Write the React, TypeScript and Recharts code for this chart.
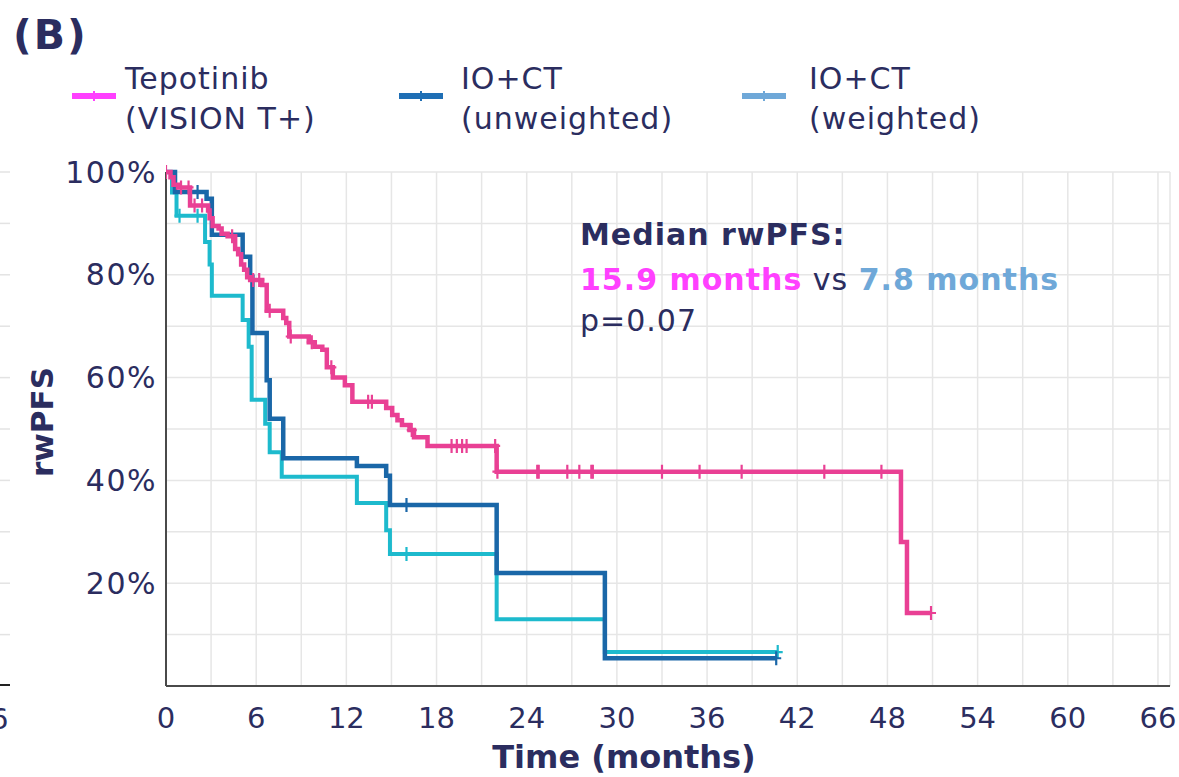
import React from 'react'
import { LineChart, Line, XAxis, YAxis, CartesianGrid } from 'recharts'

// Kaplan-Meier steps: [month, share progression-free]
const tepotinibSteps: [number, number][] = [
  [0, 1], [0.3, 0.99], [0.5, 0.975], [0.8, 0.97], [1.6, 0.935], [2.8, 0.925], [2.9, 0.91],
  [3.1, 0.895], [3.5, 0.89], [3.7, 0.88], [4.1, 0.875], [4.6, 0.85], [4.8, 0.84], [5.0, 0.82],
  [5.2, 0.81], [5.4, 0.795], [5.6, 0.79], [6.4, 0.78], [6.7, 0.73], [7.8, 0.716], [8.0, 0.706],
  [8.2, 0.68], [9.5, 0.669], [9.9, 0.66], [10.4, 0.654], [10.7, 0.62], [11.1, 0.6], [11.9, 0.585],
  [12.4, 0.553], [14.65, 0.541], [15.05, 0.527], [15.4, 0.517], [15.7, 0.508], [16.2, 0.498],
  [16.5, 0.484], [17.4, 0.467], [22.0, 0.417], [48.9, 0.28], [49.3, 0.142],
]
const tepotinibCensor = [
  0, 1.0, 1.5, 1.9, 2.4, 4.4, 5.8, 6.2, 6.9, 8.3, 9.7, 11.0, 13.45, 13.7, 16.35, 19.0, 19.35,
  19.7, 20.0, 21.9, 22.05, 24.7, 24.8, 26.7, 27.5, 28.3, 28.4, 33.0, 35.5, 38.3, 43.8, 47.6, 50.9,
]

const unweightedSteps: [number, number][] = [
  [0, 1], [0.6, 0.961], [2.7, 0.948], [3.05, 0.878], [5.1, 0.835], [5.6, 0.796], [5.75, 0.687],
  [6.7, 0.595], [6.9, 0.52], [7.8, 0.443], [12.7, 0.428], [14.65, 0.409], [14.9, 0.352],
  [22.0, 0.22], [29.2, 0.054],
]
const unweightedCensor = [2.1, 16.0, 40.6]

const weightedSteps: [number, number][] = [
  [0, 1], [0.4, 0.96], [0.7, 0.915], [2.6, 0.864], [2.9, 0.82], [3.05, 0.759], [5.1, 0.712],
  [5.5, 0.66], [5.7, 0.557], [6.6, 0.51], [6.9, 0.455], [7.7, 0.407], [12.7, 0.356],
  [14.65, 0.303], [14.9, 0.257], [22.0, 0.13], [29.2, 0.066],
]
const weightedCensor = [0.9, 2.1, 16.0, 40.7]

const xTicks = [0, 3, 6, 9, 12, 15, 18, 21, 24, 27, 30, 33, 36, 39, 42, 45, 48, 51, 54, 57, 60, 63, 66]
const yTicks = [0, 0.1, 0.2, 0.3, 0.4, 0.5, 0.6, 0.7, 0.8, 0.9, 1]

const legendLines = [
  ['Tepotinib', '(VISION T+)'],
  ['IO+CT', '(unweighted)'],
  ['IO+CT', '(weighted)'],
]
const legendColors = ['#ff40ff', '#1f6fb5', '#6fa8d8']

const navy = '#2b2d5f'
const font = '"DejaVu Sans", Verdana, sans-serif'

interface Pt {
  t: number
  s: number
  censor: boolean
}

// merge events and censor times; a censor mark sits on the current step level
function buildCurve(steps: [number, number][], censor: number[]): Pt[] {
  const pts: Pt[] = steps.map(([t, s]) => ({ t, s, censor: false }))
  censor.forEach(c => {
    let s = 1
    for (const [t, v] of steps) if (t <= c) s = v
    pts.push({ t: c, s, censor: true })
  })
  return pts.sort((a, b) => a.t - b.t)
}

const tepotinibData = buildCurve(tepotinibSteps, tepotinibCensor)
const unweightedData = buildCurve(unweightedSteps, unweightedCensor)
const weightedData = buildCurve(weightedSteps, weightedCensor)

function censorMark(color: string) {
  return (props: any) => {
    const { cx, cy, payload, index } = props
    if (!payload?.censor || cx == null) return <g key={index} />
    return (
      <path
        key={index}
        d={`M${cx},${cy - 7}V${cy + 7}M${cx - 5},${cy}H${cx + 5}`}
        stroke={color}
        strokeWidth={2.2}
        fill="none"
      />
    )
  }
}

function yLabel(v: number) {
  const pct = Math.round(v * 100)
  return pct > 0 && pct % 20 === 0 ? `${pct}%` : ''
}

function xLabel(v: number) {
  return v % 6 === 0 ? String(v) : ''
}

const legendSwatchX = [72, 399, 742]
const legendTextX = [125, 461, 809]

export default function App() {
  return (
    <div style={{ position: 'absolute', left: 0, top: 0, width: 1179, height: 777, background: '#fff', fontFamily: font }}>
      <LineChart width={1179} height={777} margin={{ top: 172, right: 9, left: 0, bottom: 0 }}>
        <CartesianGrid stroke="#e6e6e6" strokeWidth={1.5} />
        <XAxis
          dataKey="t"
          type="number"
          domain={[0, 66.8]}
          ticks={xTicks}
          tickFormatter={xLabel}
          interval={0}
          height={91}
          tickLine={false}
          tickSize={0}
          tickMargin={21}
          axisLine={{ stroke: '#4a4a4a', strokeWidth: 2 }}
          tick={{ fill: navy, fontSize: 29, fontFamily: font }}
          allowDataOverflow
        />
        <YAxis
          dataKey="s"
          type="number"
          domain={[0, 1]}
          ticks={yTicks}
          tickFormatter={yLabel}
          interval={0}
          width={166}
          tickLine={false}
          tickSize={0}
          tickMargin={9}
          axisLine={{ stroke: '#4a4a4a', strokeWidth: 2 }}
          tick={{ fill: navy, fontSize: 30, fontFamily: font, letterSpacing: 1.5 }}
        />
        <Line
          data={weightedData}
          dataKey="s"
          type="stepAfter"
          stroke="#1dbacd"
          strokeWidth={4}
          dot={censorMark('#1dbacd')}
          activeDot={false}
          isAnimationActive={false}
          name="IO+CT (weighted)"
        />
        <Line
          data={unweightedData}
          dataKey="s"
          type="stepAfter"
          stroke="#1a67a8"
          strokeWidth={4.5}
          dot={censorMark('#1a67a8')}
          activeDot={false}
          isAnimationActive={false}
          name="IO+CT (unweighted)"
        />
        <Line
          data={tepotinibData}
          dataKey="s"
          type="stepAfter"
          stroke="#e94094"
          strokeWidth={4.5}
          dot={censorMark('#e94094')}
          activeDot={false}
          isAnimationActive={false}
          name="Tepotinib (VISION T+)"
        />
      </LineChart>

      <svg width={1179} height={777} style={{ position: 'absolute', left: 0, top: 0, pointerEvents: 'none' }}>
        {/* edge of the neighbouring panel */}
        {yTicks.slice(1).map((v, i) => (
          <line key={i} x1={0} x2={10} y1={686 - v * 514} y2={686 - v * 514} stroke="#e3e3e3" strokeWidth={1.5} />
        ))}
        <line x1={0} x2={10} y1={685} y2={685} stroke="#222" strokeWidth={2} />
        <text x={-10} y={729} fontSize={29} fill={navy} fontFamily={font}>6</text>

        <text x={13} y={49} fontSize={41} fontWeight="bold" fill={navy} fontFamily={font} letterSpacing={2}>(B)</text>

        {legendLines.map((lines, i) => (
          <g key={i}>
            <line x1={legendSwatchX[i]} x2={legendSwatchX[i] + 44} y1={96} y2={96} stroke={legendColors[i]} strokeWidth={6} />
            <line x1={legendSwatchX[i] + 22} x2={legendSwatchX[i] + 22} y1={91} y2={101} stroke={legendColors[i]} strokeWidth={2} />
            <text x={legendTextX[i]} y={89} fontSize={30} fill={navy} fontFamily={font} letterSpacing={1}>{lines[0]}</text>
            <text x={legendTextX[i]} y={129} fontSize={30} fill={navy} fontFamily={font} letterSpacing={1}>{lines[1]}</text>
          </g>
        ))}

        <text x={42} y={422} fontSize={31} fontWeight="bold" fill={navy} fontFamily={font} textAnchor="middle" transform="rotate(-90 42 422)" dominantBaseline="central">rwPFS</text>
        <text x={624} y={768} fontSize={32} fontWeight="bold" fill={navy} fontFamily={font} textAnchor="middle">Time (months)</text>

        <text x={580} y={245} fontSize={30} fontWeight="bold" fill={navy} fontFamily={font} letterSpacing={1}>Median rwPFS:</text>
        <text x={580} y={290} fontSize={30} fill={navy} fontFamily={font} letterSpacing={1}>
          <tspan fontWeight="bold" fill="#ff40ff">15.9 months</tspan>
          <tspan> vs </tspan>
          <tspan fontWeight="bold" fill="#6fa8d8">7.8 months</tspan>
        </text>
        <text x={580} y={331} fontSize={30} fill={navy} fontFamily={font} letterSpacing={1}>p=0.07</text>
      </svg>
    </div>
  )
}
